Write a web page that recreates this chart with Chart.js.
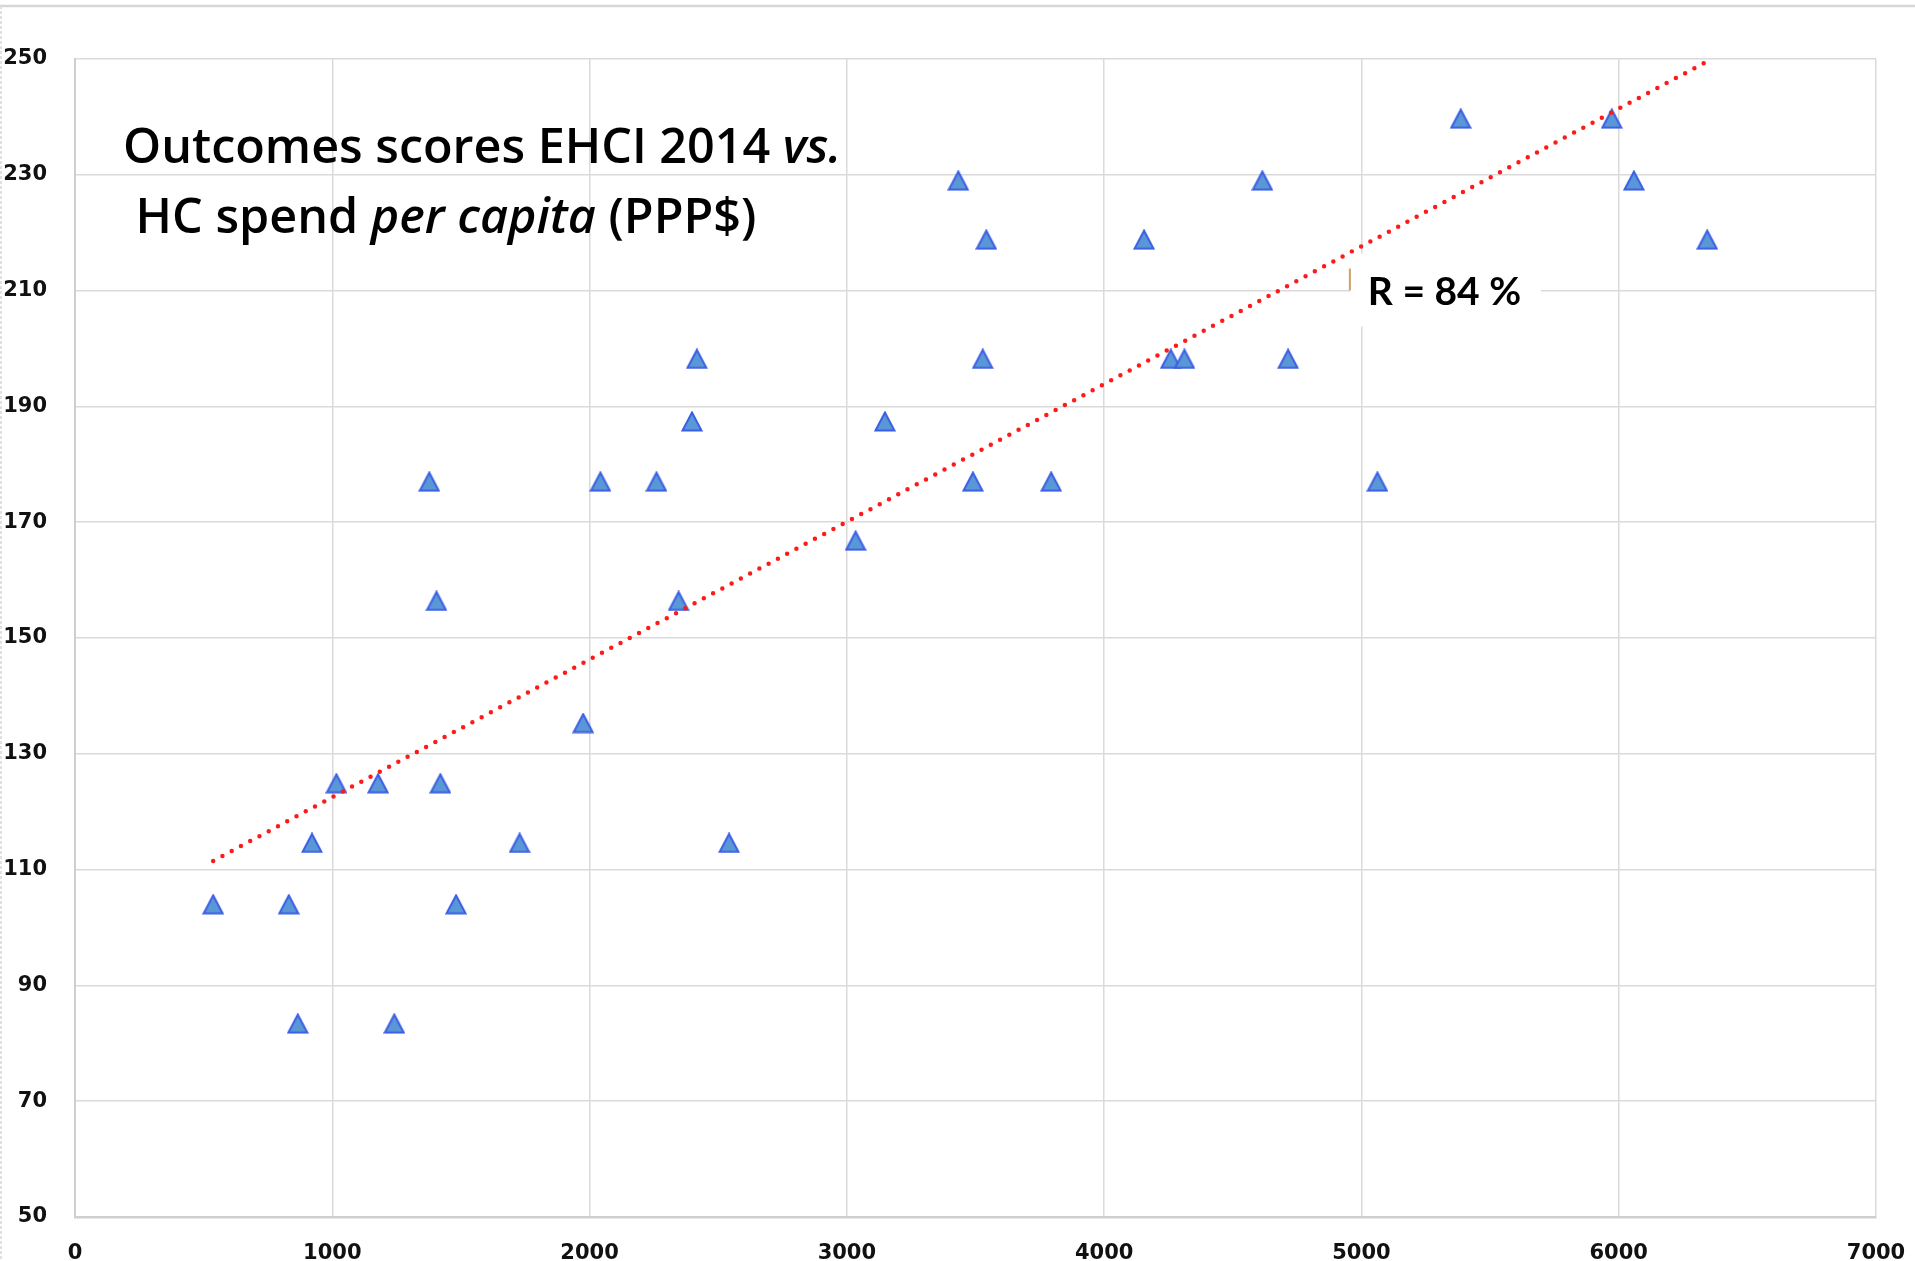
<!DOCTYPE html>
<html>
<head>
<meta charset="utf-8">
<title>Outcomes scores EHCI 2014 vs. HC spend per capita</title>
<script src="https://cdn.jsdelivr.net/npm/chart.js@4.4.1/dist/chart.umd.min.js"></script>
<style>
  html, body { margin: 0; padding: 0; background: #fff; overflow: hidden; }
  #wrap { width: 1915px; height: 1261px; position: relative; }
</style>
</head>
<body>
<div id="wrap"><canvas id="chart"></canvas></div>
<script>
// HC spend per capita (PPP$) and EHCI 2014 outcome score, one entry per country
const spendX = [537, 831, 866, 921, 1016, 1178, 1241, 1377, 1405, 1420, 1481, 1728,
  1975, 2042, 2260, 2346, 2398, 2417, 2542, 3034, 3148, 3433, 3490, 3528,
  3542, 3794, 4155, 4259, 4312, 4615, 4715, 5062, 5386, 5973, 6059, 6344];
const scoreY = [104, 104, 83.4, 114.6, 124.9, 124.9, 83.4, 177, 156.4, 124.9, 104, 114.6,
  135.3, 177, 177, 156.4, 187.4, 198.2, 114.6, 166.8, 187.4, 229, 177, 198.2,
  218.8, 177, 218.8, 198.2, 198.2, 229, 198.2, 177, 239.7, 239.7, 229, 218.8];

// linear trend line, read at its two ends
const trendX = [537, 6344];
const trendY = [111.5, 249.6];

const xRange = [0, 7000];
const xStep = 1000;
const yRange = [50, 250];
const yStep = 20;

const titleLines = [
  [["Outcomes scores EHCI 2014 ", false], ["vs.", true]],
  [[" HC spend ", false], ["per capita", true], [" (PPP$)", false]]
];
const rLabel = { x: 4955, y: 216.4, text: "R = 84 %" };

const tickFont = { family: "'DejaVu Sans', Verdana, sans-serif", size: 21, weight: "bold" };
const titleFont = "48.5px 'Open Sans', Lato, sans-serif";

function triangleMarker() {
  const c = document.createElement("canvas");
  c.width = 22;
  c.height = 21;
  const g = c.getContext("2d");
  g.beginPath();
  g.moveTo(11, 1.5);
  g.lineTo(20.5, 19.5);
  g.lineTo(1.5, 19.5);
  g.closePath();
  g.fillStyle = "#5a97d6";
  g.fill();
  g.lineWidth = 2;
  g.strokeStyle = "#3b5ee6";
  g.stroke();
  return c;
}

// page frame, title text and the R label box
const decorations = {
  id: "decorations",
  beforeDraw(chart) {
    const ctx = chart.ctx;
    ctx.save();
    ctx.fillStyle = "#ffffff";
    ctx.fillRect(0, 0, chart.width, chart.height);
    ctx.strokeStyle = "#d6d6d6";
    ctx.lineWidth = 2.5;
    ctx.beginPath();
    ctx.moveTo(0, 6);
    ctx.lineTo(chart.width, 6);
    ctx.stroke();
    ctx.strokeStyle = "#e0e0e0";
    ctx.lineWidth = 2;
    ctx.setLineDash([3, 2]);
    ctx.beginPath();
    ctx.moveTo(1, 6);
    ctx.lineTo(1, chart.height);
    ctx.stroke();
    ctx.restore();
  },
  afterDraw(chart) {
    const ctx = chart.ctx;
    const area = chart.chartArea;
    ctx.save();
    ctx.fillStyle = "#000";
    ctx.textBaseline = "alphabetic";
    const starts = [[area.left + 48, area.top + 104], [area.left + 48, area.top + 174]];
    titleLines.forEach((parts, i) => {
      let x = starts[i][0];
      parts.forEach(([txt, italic]) => {
        ctx.font = (italic ? "italic " : "") + "600 " + titleFont;
        ctx.fillText(txt, x, starts[i][1]);
        x += ctx.measureText(txt).width;
      });
    });

    const bx = chart.scales.x.getPixelForValue(rLabel.x);
    const by = chart.scales.y.getPixelForValue(rLabel.y);
    ctx.fillStyle = "#ffffff";
    ctx.fillRect(bx, by, 191, 73);
    ctx.strokeStyle = "#c9a264";
    ctx.lineWidth = 2;
    ctx.beginPath();
    ctx.moveTo(bx, by + 15);
    ctx.lineTo(bx, by + 37);
    ctx.stroke();
    ctx.fillStyle = "#000";
    ctx.font = "bold 39px Lato, 'Open Sans', sans-serif";
    ctx.fillText(rLabel.text, bx + 18, by + 51);
    ctx.restore();
  }
};

const chart = new Chart(document.getElementById("chart"), {
  type: "scatter",
  data: {
    datasets: [
      {
        type: "line",
        label: "Trend",
        data: trendX.map((x, i) => ({ x, y: trendY[i] })),
        borderColor: "#ff1a1a",
        borderWidth: 4.5,
        borderDash: [0, 10.5],
        borderCapStyle: "round",
        pointRadius: 0,
        fill: false,
        tension: 0,
        order: 0
      },
      {
        label: "Countries",
        data: spendX.map((x, i) => ({ x, y: scoreY[i] })),
        pointStyle: triangleMarker(),
        pointRadius: 10,
        order: 1
      }
    ]
  },
  options: {
    responsive: true,
    maintainAspectRatio: false,
    animation: false,
    layout: { padding: { left: 0, top: 59, right: 39, bottom: 0 } },
    plugins: {
      legend: { display: false },
      title: { display: false },
      tooltip: { enabled: false }
    },
    scales: {
      x: {
        type: "linear",
        min: xRange[0],
        max: xRange[1],
        ticks: {
          stepSize: xStep,
          color: "#111",
          font: tickFont,
          padding: 24,
          callback: (v) => String(v)
        },
        grid: { color: "#dadada", lineWidth: 1.5, drawTicks: false },
        border: { display: true, color: "#cfcfcf", width: 2.5 },
        afterFit: (scale) => {
          scale.height = 44;
          scale.paddingLeft = 0;
          scale.paddingRight = 0;
        }
      },
      y: {
        type: "linear",
        min: yRange[0],
        max: yRange[1],
        ticks: {
          stepSize: yStep,
          color: "#111",
          font: tickFont,
          padding: 28,
          callback: (v) => String(v)
        },
        grid: { color: "#dadada", lineWidth: 1.5, drawTicks: false },
        border: { display: true, color: "#cfcfcf", width: 2 },
        afterFit: (scale) => {
          scale.width = 75;
          scale.paddingTop = 0;
          scale.paddingBottom = 0;
        }
      }
    }
  },
  plugins: [decorations]
});
</script>
</body>
</html>
